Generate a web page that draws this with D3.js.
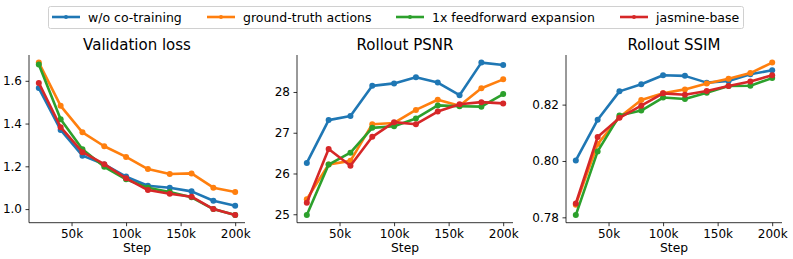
<!DOCTYPE html>
<html>
<head>
<meta charset="utf-8">
<script src="https://cdn.jsdelivr.net/npm/d3@7"></script>
<style>
  body { margin: 0; background: #fff; }
  text { font-family: "DejaVu Sans", sans-serif; }
</style>
</head>
<body>
<div id="chart"></div>
<script>
var steps = [20000, 40000, 60000, 80000, 100000, 120000, 140000, 160000, 180000, 200000];
var seriesNames = ["w/o co-training", "ground-truth actions", "1x feedforward expansion", "jasmine-base"];
var colors = ["#1f77b4", "#ff7f0e", "#2ca02c", "#d62728"];

// validation loss
var lossNoCo = [1.566, 1.370, 1.250, 1.209, 1.152, 1.109, 1.100, 1.083, 1.039, 1.016];
var lossGT = [1.685, 1.483, 1.359, 1.294, 1.244, 1.187, 1.164, 1.167, 1.100, 1.080];
var lossFF = [1.676, 1.420, 1.280, 1.198, 1.139, 1.100, 1.080, 1.055, 1.000, 0.972];
var lossBase = [1.590, 1.383, 1.266, 1.210, 1.144, 1.089, 1.072, 1.058, 1.000, 0.972];

// rollout PSNR
var psnrNoCo = [26.26, 27.31, 27.41, 28.15, 28.21, 28.36, 28.23, 27.92, 28.72, 28.66];
var psnrGT = [25.37, 26.22, 26.31, 27.21, 27.24, 27.56, 27.81, 27.66, 28.09, 28.31];
var psnrFF = [24.98, 26.22, 26.51, 27.12, 27.16, 27.35, 27.67, 27.65, 27.64, 27.95];
var psnrBase = [25.28, 26.60, 26.19, 26.90, 27.26, 27.21, 27.52, 27.70, 27.75, 27.72];

// rollout SSIM
var ssimNoCo = [0.8002, 0.8146, 0.8247, 0.8272, 0.8304, 0.8302, 0.8278, 0.8284, 0.8308, 0.8322];
var ssimGT = [0.7845, 0.8060, 0.8155, 0.8216, 0.8240, 0.8254, 0.8275, 0.8292, 0.8312, 0.8349];
var ssimFF = [0.7808, 0.8034, 0.8161, 0.8179, 0.8225, 0.8220, 0.8242, 0.8266, 0.8267, 0.8294];
var ssimBase = [0.7849, 0.8085, 0.8153, 0.8196, 0.8240, 0.8235, 0.8248, 0.8266, 0.8282, 0.8304];

var xTicks = [50000, 100000, 150000, 200000];

var panels = [
  { title: "Validation loss", series: [lossNoCo, lossGT, lossFF, lossBase], ticks: [1.0, 1.2, 1.4, 1.6], fmt: d3.format(".1f"), left: 29 },
  { title: "Rollout PSNR", series: [psnrNoCo, psnrGT, psnrFF, psnrBase], ticks: [25, 26, 27, 28], fmt: d3.format("d"), left: 297 },
  { title: "Rollout SSIM", series: [ssimNoCo, ssimGT, ssimFF, ssimBase], ticks: [0.78, 0.80, 0.82], fmt: d3.format(".2f"), left: 566 }
];

var W = 793, H = 259;
var plotTop = 55, plotBottom = 222.7, plotW = 216;
var plotH = plotBottom - plotTop;

var svg = d3.select("#chart").append("svg").attr("width", W).attr("height", H);

// margins like matplotlib (5%)
function padded(ext) {
  var m = (ext[1] - ext[0]) * 0.05;
  return [ext[0] - m, ext[1] + m];
}

var xs = d3.scaleLinear().domain(padded(d3.extent(steps))).range([0, plotW]);

panels.forEach(function (p) {
  var all = [].concat.apply([], p.series);
  var ys = d3.scaleLinear().domain(padded(d3.extent(all))).range([plotH, 0]);

  var g = svg.append("g").attr("transform", "translate(" + p.left + "," + plotTop + ")");

  g.append("text")
    .attr("x", plotW / 2)
    .attr("y", -5)
    .attr("text-anchor", "middle")
    .style("font-size", "15px")
    .attr("fill", "#000")
    .text(p.title);

  var yAxis = g.append("g")
    .call(d3.axisLeft(ys).tickValues(p.ticks).tickFormat(p.fmt).tickSize(3.5).tickPadding(3.5));
  var xAxis = g.append("g")
    .attr("transform", "translate(0," + plotH + ")")
    .call(d3.axisBottom(xs).tickValues(xTicks).tickFormat(function (d) { return (d / 1000) + "k"; }).tickSize(3.5).tickPadding(3.5));

  [yAxis, xAxis].forEach(function (a) {
    a.select(".domain").attr("stroke", "#000").attr("stroke-width", 0.8);
    a.selectAll(".tick line").attr("stroke", "#000").attr("stroke-width", 0.8);
    a.selectAll(".tick text").style("font-size", "12px").attr("fill", "#000").style("font-family", "DejaVu Sans");
  });
  // plain spines, no end caps
  yAxis.select(".domain").attr("d", "M0," + plotH + "V0");
  xAxis.select(".domain").attr("d", "M0,0H" + plotW);

  g.append("text")
    .attr("x", plotW / 2)
    .attr("y", plotH + 29)
    .attr("text-anchor", "middle")
    .style("font-size", "12.3px")
    .attr("fill", "#000")
    .text("Step");

  var line = d3.line()
    .x(function (d, i) { return xs(steps[i]); })
    .y(function (d) { return ys(d); });

  p.series.forEach(function (s, k) {
    g.append("path")
      .datum(s)
      .attr("d", line)
      .attr("fill", "none")
      .attr("stroke", colors[k])
      .attr("stroke-width", 2.6)
      .attr("stroke-linejoin", "round");
    g.selectAll(".dot" + k)
      .data(s)
      .enter()
      .append("circle")
      .attr("class", "dot" + k)
      .attr("cx", function (d, i) { return xs(steps[i]); })
      .attr("cy", function (d) { return ys(d); })
      .attr("r", 3)
      .attr("fill", colors[k]);
  });
});

// legend
var legend = svg.append("g");
legend.append("rect")
  .attr("x", 48.5).attr("y", 6.5)
  .attr("width", 695).attr("height", 22)
  .attr("rx", 2)
  .attr("fill", "#fff")
  .attr("stroke", "#d0d0d0")
  .attr("stroke-width", 1);

var legendX = [52, 207, 396, 620];
seriesNames.forEach(function (name, k) {
  var lg = legend.append("g").attr("transform", "translate(" + legendX[k] + ",17)");
  lg.append("line").attr("x1", 0).attr("x2", 28).attr("y1", 0).attr("y2", 0)
    .attr("stroke", colors[k]).attr("stroke-width", 2.6);
  lg.append("circle").attr("cx", 14).attr("cy", 0).attr("r", 2).attr("fill", colors[k]);
  lg.append("text").attr("x", 36).attr("y", 4.5)
    .style("font-size", "12.5px").attr("fill", "#000").text(name);
});
</script>
</body>
</html>
